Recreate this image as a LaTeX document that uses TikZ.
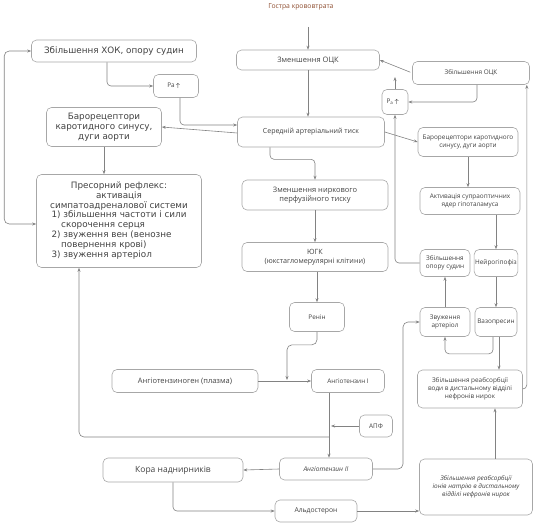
\documentclass[tikz,border=0pt]{standalone}
\usepackage{fontspec}
\setmainfont{Open Sans}
\newfontfamily\widefont{DejaVu Sans}
\usetikzlibrary{arrows.meta, positioning, calc}

\definecolor{titlebrown}{RGB}{140,75,45}
\definecolor{inkgray}{RGB}{65,65,65}
\definecolor{linegray}{RGB}{130,130,130}

\tikzset{
  box/.style={draw=linegray!70, rounded corners=5pt, line width=0.6pt, text=inkgray, inner sep=2pt, align=center},
  bigtxt/.style={font=\widefont\fontsize{8.8}{9.8}\selectfont},
  midtxt/.style={font=\fontsize{7.5}{9}\selectfont},
  smalltxt/.style={font=\fontsize{6.4}{8}\selectfont},
  arr/.style={draw=linegray, line width=0.6pt, -{Stealth[length=4pt, width=3pt]}},
  arrboth/.style={draw=linegray, line width=0.6pt, {Stealth[length=4pt, width=3pt]}-{Stealth[length=4pt, width=3pt]}},
}

\begin{document}
\begin{tikzpicture}[x=1pt, y=-1pt]
  \useasboundingbox (0,0) rectangle (536,525);

  % Top and centre column
  \node[font=\fontsize{6.8}{8}\selectfont, text=titlebrown] (title) at (301,7) {Гостра крововтрата};
  \node[box, midtxt, minimum width=143pt, minimum height=20pt] (zmocs) at (308,60) {Зменшення ОЦК};
  \node[box, font=\fontsize{7}{8.5}\selectfont, minimum width=147pt, minimum height=30pt] (serat) at (311,132) {Середній артеріальний тиск};
  \node[box, midtxt, minimum width=146pt, minimum height=30pt] (nyrk) at (315,195) {Зменшення ниркового\\перфузійного тиску};
  \node[box, font=\fontsize{7.2}{8.8}\selectfont, minimum width=146pt, minimum height=29pt] (jugk) at (315,257) {ЮГК\\(юкстагломерулярні клітини)};
  \node[box, smalltxt, minimum width=55pt, minimum height=29pt] (renin) at (317,317) {Ренін};
  \node[box, midtxt, minimum width=146pt, minimum height=23pt] (angen) at (185,381) {Ангіотензиноген (плазма)};
  \node[box, smalltxt, minimum width=73pt, minimum height=23pt] (ang1) at (348,381) {Ангіотензин І};
  \node[box, smalltxt, minimum width=33pt, minimum height=22pt] (apf) at (376,426) {АПФ};
  \node[box, font=\fontsize{6.6}{8}\selectfont\itshape, minimum width=93pt, minimum height=22pt] (ang2) at (326,469) {Ангіотензин ІІ};
  \node[box, font=\fontsize{8.5}{10}\selectfont, minimum width=140pt, minimum height=24pt] (kora) at (173,470) {Кора наднирників};
  \node[box, font=\fontsize{6.8}{8}\selectfont, minimum width=82pt, minimum height=22pt] (aldo) at (316,511) {Альдостерон};

  % Right column
  \node[box, smalltxt, minimum width=117pt, minimum height=23pt] (zbocs) at (471,73) {Збільшення ОЦК};
  \node[box, smalltxt, minimum width=26pt, minimum height=25pt, inner sep=1pt] (pa2) at (395,102) {P\textsubscript{a}\,{\boldmath$\uparrow$}};
  \node[box, smalltxt, minimum width=100pt, minimum height=29pt] (baro2) at (468,142) {Барорецептори каротидного\\синусу, дуги аорти};
  \node[box, smalltxt, minimum width=100pt, minimum height=27pt] (supra) at (470,201) {Активація супраоптичних\\ядер гіпоталамуса};
  \node[box, smalltxt, minimum width=50pt, minimum height=27pt, inner sep=1pt] (opir) at (445,263) {Збільшення\\опору судин};
  \node[box, smalltxt, minimum width=42pt, minimum height=27pt, inner sep=1pt] (neuro) at (496,263) {Нейрогіпофіз};
  \node[box, smalltxt, minimum width=50pt, minimum height=29pt, inner sep=1pt] (zvart) at (445,322) {Звуження\\артеріол};
  \node[box, smalltxt, minimum width=42pt, minimum height=29pt, inner sep=1pt] (vazo) at (496,322) {Вазопресин};
  \node[box, smalltxt, minimum width=105pt, minimum height=38pt] (reabw) at (470,389) {Збільшення реабсорбції\\води в дистальному відділі\\нефронів нирок};
  \node[box, font=\fontsize{6.4}{8}\selectfont\itshape, minimum width=113pt, minimum height=56pt] (reabna) at (476,487) {Збільшення реабсорбції\\іонів натрію в дистальному\\відділі нефронів нирок};

  % Left column
  \node[box, bigtxt, minimum width=165pt, minimum height=22pt] (hok) at (114,51) {Збільшення ХОК, опору судин};
  \node[box, smalltxt, minimum width=45pt, minimum height=23pt] (pa1) at (176,86) {Pa\,{\boldmath$\uparrow$}};
  \node[box, bigtxt, minimum width=115pt, minimum height=39pt] (baro1) at (104,127) {Барорецептори\\каротидного синусу,\\дуги аорти};
  \node[box, bigtxt, minimum width=165pt, minimum height=93pt, inner sep=1pt] (presor) at (119,221) {Пресорний рефлекс:\\активація\\симпатоадреналової системи\\
    \begin{tabular}{@{}l@{}}1) збільшення частоти і сили\\\hspace{1.1em}скорочення серця\\2) звуження вен (венозне\\\hspace{1.1em}повернення крові)\\3) звуження артеріол\end{tabular}};

  % Connectors, centre
  \draw[arr, shorten <=13pt] (title.south -| zmocs.north) -- (zmocs.north);
  \draw[arr] (zmocs.south) -- (zmocs.south |- serat.north);
  \draw[arr, rounded corners=4pt] ([xshift=-41pt]serat.south) -- ++(0,12) -| (nyrk.north);
  \draw[arr] (nyrk.south) -- (jugk.north);
  \draw[arr] (renin.north |- jugk.south) -- (renin.north);
  \coordinate (renjoin) at (287,380);
  \draw[arr, rounded corners=5pt] (renin.south) -- ++(0,13) -| (renjoin);
  \draw[arr] (angen.east) -- (ang1.west);
  \draw[arr] ([xshift=3pt]ang2.north |- ang1.south) -- ([xshift=3pt]ang2.north);
  \coordinate (apfjoin) at (331,426);
  \draw[arr] (apf.west) -- (apfjoin);
  \draw[arr] (ang2.west) -- (kora.east);
  \draw[arr, rounded corners=4pt] (kora.south) |- (aldo.west);
  \draw[arr] (aldo.east) -- (aldo.east -| reabna.west);

  % Connectors, right
  \draw[arr, shorten <=2pt] (zbocs.west) -- (zmocs.east);
  \coordinate (paup) at (395,77);
  \draw[arr] (pa2.north) -- (paup);
  \draw[arr, rounded corners=4pt] ([xshift=6pt]zbocs.south) |- (pa2.east);
  \draw[arr, rounded corners=4pt] (opir.west) -| (pa2.south);
  \draw[arr, rounded corners=4pt] (reabw.east) -| ([xshift=-3pt]zbocs.south east);
  \draw[arr] (serat.east) -- (baro2.west);
  \draw[arr] (baro2.south) -- (baro2.south |- supra.north);
  \draw[arr] (neuro.north |- supra.south) -- (neuro.north);
  \draw[arr] (zvart.north) -- (opir.south);
  \draw[arr] (neuro.south) -- (vazo.north);
  \draw[arr, rounded corners=4pt] ([xshift=-3pt]vazo.south) -- ++(0,17) -| (zvart.south);
  \draw[arr] ([xshift=3pt]vazo.south) -- ([xshift=3pt]vazo.south |- reabw.north);
  \draw[arr] ([xshift=19pt]reabna.north) -- ([xshift=19pt]reabna.north |- reabw.south);
  \draw[arr, rounded corners=5pt] (ang2.east) -| (zvart.west -| 403,0) -- (zvart.west);

  % Connectors, left
  \draw[arr, rounded corners=4pt] ([xshift=-7pt]hok.south) |- (pa1.west);
  \draw[arr, rounded corners=4pt] ([xshift=4pt]pa1.south) |- ([yshift=7pt]serat.west);
  \draw[arr] ([yshift=-1pt]serat.west) -- (baro1.east);
  \draw[arr] (baro1.south) -- (baro1.south |- presor.north);
  \draw[arrboth, rounded corners=5pt] (hok.west) -- ++(-27,0) |- ([yshift=-3pt]presor.west);
  \coordinate (angjoin) at (329,437);
  \draw[arr, rounded corners=5pt] (angjoin) -| ([xshift=-40pt]presor.south);
\end{tikzpicture}
\end{document}
